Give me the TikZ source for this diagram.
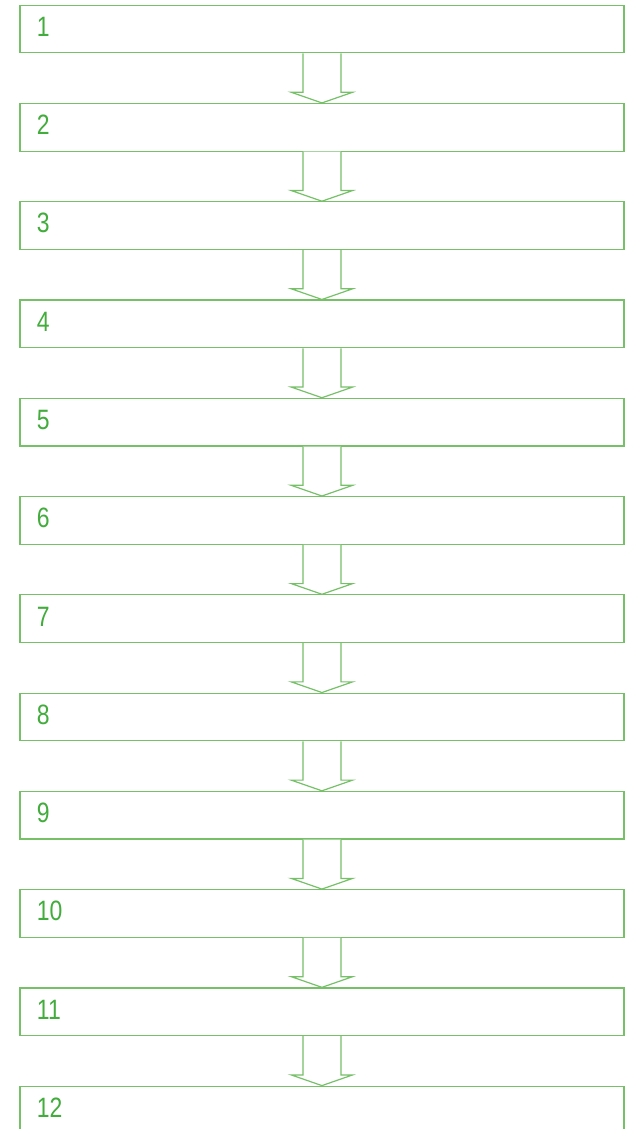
\documentclass[tikz,border=0pt]{standalone}
\usepackage{fontspec}
\setmainfont{Liberation Sans}[FakeStretch=0.82]
\usepackage{tikz}
\usetikzlibrary{positioning}
\definecolor{stepgreen}{RGB}{118,192,104}
\definecolor{numgreen}{RGB}{66,172,60}
\tikzset{
    stepbox/.style={rectangle, draw=stepgreen, line width=0.9pt, fill=white,
                    minimum width=453pt, minimum height=35.7pt,
                    inner xsep=12.75pt, inner ysep=0pt, text width=427.5pt,
                    align=left, text height=15pt, text depth=4pt,
                    text=numgreen, font=\fontsize{21pt}{24pt}\selectfont},
    blockarrow/.style={draw=stepgreen, line width=0.9pt, fill=white,
                       line join=miter},
}
% hollow down arrow from one box to the next
\newcommand{\flowarrow}[2]{%
    \draw[blockarrow]
        ([xshift=-14.25pt]#1.south)
        -- ([xshift=-14.25pt, yshift=8pt]#2.north)
        -- ([xshift=-23pt, yshift=8pt]#2.north)
        -- (#2.north)
        -- ([xshift=23pt, yshift=8pt]#2.north)
        -- ([xshift=14.25pt, yshift=8pt]#2.north)
        -- ([xshift=14.25pt]#1.south);
}

\begin{document}
\begin{tikzpicture}[
        node distance=37.1pt
    ]
        \useasboundingbox (0,0) rectangle (471.75pt,-846.75pt);
        \node[stepbox, anchor=north west] (s1) at (14.5pt,-3.5pt) {1};
        \node[stepbox, below=of s1] (s2) {2};
        \node[stepbox, below=of s2] (s3) {3};
        \node[stepbox, below=of s3] (s4) {4};
        \node[stepbox, below=of s4] (s5) {5};
        \node[stepbox, below=of s5] (s6) {6};
        \node[stepbox, below=of s6] (s7) {7};
        \node[stepbox, below=of s7] (s8) {8};
        \node[stepbox, below=of s8] (s9) {9};
        \node[stepbox, below=of s9] (s10) {10};
        \node[stepbox, below=of s10] (s11) {11};
        \node[stepbox, below=of s11] (s12) {12};
        \flowarrow{s1}{s2}
        \flowarrow{s2}{s3}
        \flowarrow{s3}{s4}
        \flowarrow{s4}{s5}
        \flowarrow{s5}{s6}
        \flowarrow{s6}{s7}
        \flowarrow{s7}{s8}
        \flowarrow{s8}{s9}
        \flowarrow{s9}{s10}
        \flowarrow{s10}{s11}
        \flowarrow{s11}{s12}
    \end{tikzpicture}
\end{document}
